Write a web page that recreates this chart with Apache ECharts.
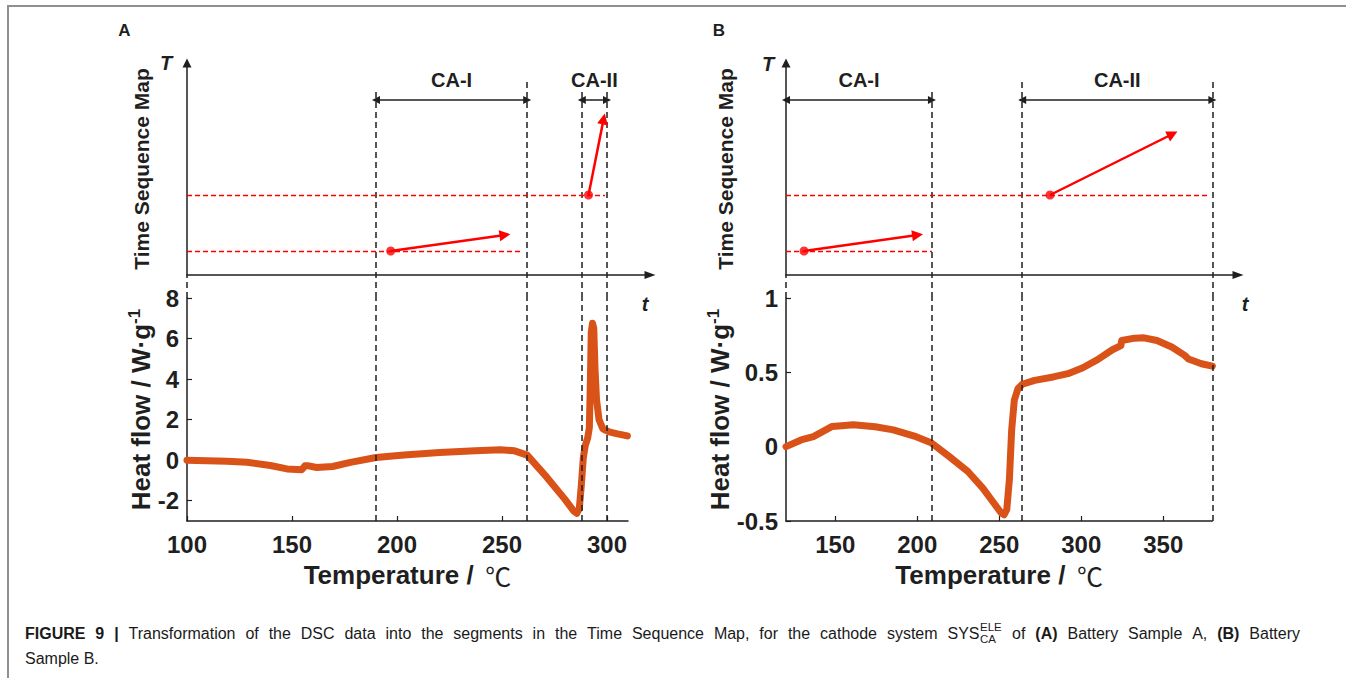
<!DOCTYPE html>
<html>
<head>
<meta charset="utf-8">
<title>DSC Time Sequence Map</title>
<script src="https://cdn.jsdelivr.net/npm/echarts@6.0.0/dist/echarts.min.js"></script>
<style>
html,body{margin:0;padding:0;background:#ffffff;overflow:hidden;}
#frame{position:absolute;left:7px;top:5px;width:1339px;height:673px;box-sizing:border-box;border-left:2px solid #8f8f8f;border-top:2px solid #8f8f8f;}
#chart{position:absolute;left:0;top:0;width:1346px;height:678px;}
</style>
</head>
<body>
<div id="frame"></div>
<div id="chart"></div>
<script>
// ---------------- data ----------------
// Panel A: DSC curve of Battery Sample A
const tempA = [100,119,128.6,139.7,147.6,154.6,156.2,157.4,161.7,169.3,177.8,190,203.3,220.3,237.3,249.3,256,262,271.4,279.9,284.1,285.6,286.8,287.8,288.7,289.6,290.8,291.6,292.1,292.5,293.1,293.7,294.3,295.0,296.2,298.0,301.0,305.0,309.7];
const heatA = [0,-0.05,-0.1,-0.26,-0.43,-0.47,-0.28,-0.27,-0.36,-0.31,-0.11,0.13,0.26,0.38,0.46,0.51,0.46,0.25,-0.85,-1.92,-2.5,-2.62,-2.4,-1.2,0.1,0.7,1.1,1.6,4.0,6.3,6.75,6.5,4.5,3.0,2.0,1.55,1.4,1.3,1.2];
// Panel B: DSC curve of Battery Sample B
const tempB = [120,129.2,136.7,147.9,154,161,174.4,185.4,199.3,208.5,219.6,230.9,240,246.7,251.2,253,254.6,256.2,257.6,259.2,261.4,264.1,271.6,282.9,291.9,301,310,319,324.2,324.7,332.6,338.3,346.2,355.2,363.1,365.4,373.3,380];
const heatB = [0,0.045,0.068,0.135,0.14,0.147,0.134,0.113,0.067,0.027,-0.067,-0.167,-0.279,-0.379,-0.446,-0.458,-0.424,-0.223,0.112,0.3125,0.39,0.42,0.446,0.469,0.491,0.531,0.585,0.652,0.68,0.714,0.73,0.732,0.714,0.67,0.614,0.59,0.558,0.542];

// tick labels
const xTicksA = [100,150,200,250,300];
const yTicksA = [-2,0,2,4,6,8];
const xTicksB = [150,200,250,300,350];
const yTicksB = [-0.5,0,0.5,1];

// segment dividers (°C) and where each dashed divider starts in the time-map (map units)
const boundsA = [190,262,288,300];
const boundTopA = [183,193,185,185];
const boundsB = [209,264,380];
const boundTopB = [185,195,195];

// segments
const segNamesA = ['CA-I','CA-II'];
const segFromA = [190,288];
const segToA = [262,300];
const segNamesB = ['CA-I','CA-II'];
const segFromB = [120,264];
const segToB = [209,380];

// time-sequence trends: start temperature / level, end temperature / level, reference-level end
const trendStartTA = [197,291.2];
const trendStartLA = [24,80];
const trendEndTA = [251.4,298.4];
const trendEndLA = [40,156];
const levelEndA = [260,299];
const trendStartTB = [131,281];
const trendStartLB = [24,80];
const trendEndTB = [200.2,355.7];
const trendEndLB = [40,141];
const levelEndB = [209,377];

// caption (line 1 is justified; '*' marks bold words, '#' marks the SYS word with scripts)
const capWords1 = ['*FIGURE','*9','*|','Transformation','of','the','DSC','data','into','the','segments','in','the','Time','Sequence','Map,','for','the','cathode','system','#SYS','of','*(A)','Battery','Sample','A,','*(B)','Battery'];
const capSup = 'ELE';
const capSub = 'CA';
const capLine2 = 'Sample B.';

// ---------------- styling / layout ----------------
const FONT = '"Liberation Sans", Arial, Helvetica, sans-serif';
const CAPFONT = '"Liberation Sans", Arial, sans-serif';
const INK = '#1f1f1f';
const ORANGE = '#D95319';
const RED = '#ff0000';
const T_MIN = -23, T_MAX = 217, T_AXIS_TOP = 212, SEG_LEVEL = 175;
const TOP = 58, MID = 298, BOT = 521;
const TICKFS = 24, TITLEFS = 26;

const PA = {left:187, px:2.1, xmin:100, xmax:310, ymin:-3, ymax:8, arrowRight:650, tsGap:35, hfGap:30};
const PB = {left:786, px:1.64, xmin:120, xmax:380, ymin:-0.5, ymax:1, arrowRight:1238, tsGap:50, hfGap:48};

const dashBlack = {color:INK, type:[6,4], width:1.5};
const solidBlack = {color:INK, type:'solid', width:1.5};
const dashRed = {color:RED, type:[5,3], width:1.3, opacity:1};
const solidRed = {color:RED, type:'solid', width:2.5};

function seg(p1, p2, style, s1, s2, size, label) {
  const a = {coord:p1, symbol:s1 || 'none', symbolSize:size || 8, lineStyle:Object.assign({}, style)};
  const b = {coord:p2, symbol:s2 || 'none', symbolSize:size || 8, lineStyle:Object.assign({}, style)};
  if (label) { a.label = label; b.label = label; }
  return [a, b];
}

const grids = [], xAxes = [], yAxes = [], series = [];

function buildPanel(P, temps, heats, xTicks, yTicks, bounds, boundTop, segNames, segFrom, segTo,
                    stT, stL, enT, enL, lvEnd) {
  const gi = grids.length;
  const topW = P.arrowRight - P.left;
  grids.push({left:P.left, top:TOP, width:topW, height:MID - TOP});
  grids.push({left:P.left, top:MID, width:(P.xmax - P.xmin) * P.px, height:BOT - MID});

  xAxes.push({
    gridIndex:gi, type:'value', min:P.xmin, max:P.xmin + topW / P.px,
    axisLine:{show:true, onZero:true, symbol:['none','triangle'], symbolSize:[8,11], lineStyle:{color:INK, width:1.5}},
    axisTick:{show:false}, axisLabel:{show:false}, splitLine:{show:false}
  });
  xAxes.push({
    gridIndex:gi + 1, type:'value', min:P.xmin, max:P.xmax,
    axisLine:{show:true, onZero:false, lineStyle:{color:INK, width:1.5}},
    axisTick:{show:true, inside:true, length:5, customValues:xTicks, lineStyle:{color:INK, width:1.2}},
    axisLabel:{customValues:xTicks, margin:11, fontSize:TICKFS, fontWeight:'bold', fontFamily:FONT, color:INK},
    splitLine:{show:false},
    name:'{b|Temperature /}{c|  \u2103}', nameLocation:'middle', nameGap:41,
    nameTextStyle:{rich:{
      b:{fontSize:TITLEFS, fontWeight:'bold', fontFamily:FONT, color:INK},
      c:{fontSize:TITLEFS, fontWeight:'normal', fontFamily:'"Noto Sans CJK SC", "DejaVu Sans"', color:INK}
    }}
  });
  yAxes.push({
    gridIndex:gi, type:'value', min:T_MIN, max:T_MAX,
    axisLine:{show:false}, axisTick:{show:false}, axisLabel:{show:false}, splitLine:{show:false},
    name:'Time Sequence Map', nameLocation:'middle', nameRotate:90, nameGap:P.tsGap,
    nameTextStyle:{fontSize:21, fontWeight:'bold', fontFamily:FONT, color:INK, padding:[0,0,0,18]}
  });
  yAxes.push({
    gridIndex:gi + 1, type:'value', min:P.ymin, max:P.ymax,
    axisLine:{show:true, onZero:false, lineStyle:{color:INK, width:1.5}},
    axisTick:{show:true, inside:true, length:5, customValues:yTicks, lineStyle:{color:INK, width:1.2}},
    axisLabel:{customValues:yTicks, margin:8, fontSize:TICKFS, fontWeight:'bold', fontFamily:FONT, color:INK},
    splitLine:{show:false},
    name:'{b|Heat flow / W\u00b7g}{s|-1}', nameLocation:'middle', nameRotate:90, nameGap:P.hfGap,
    nameTextStyle:{rich:{
      b:{fontSize:TITLEFS, fontWeight:'bold', fontFamily:FONT, color:INK, lineHeight:30},
      s:{fontSize:17, fontWeight:'bold', fontFamily:FONT, color:INK, lineHeight:17, verticalAlign:'top'}
    }}
  });

  // DSC curve + dashed dividers in the heat-flow plot
  series.push({
    type:'line', xAxisIndex:gi + 1, yAxisIndex:gi + 1,
    data:temps.map((t, i) => [t, heats[i]]),
    symbol:'none', showSymbol:false, smooth:false,
    lineStyle:{color:ORANGE, width:7, cap:'round', join:'round'},
    z:3,
    markLine:{silent:true, symbol:['none','none'], label:{show:false}, animation:false,
      lineStyle:dashBlack, data:bounds.map(v => ({xAxis:v}))}
  });

  // time sequence map: black scaffold
  const mlBlack = [];
  bounds.forEach((v, i) => mlBlack.push(seg([v, T_MIN], [v, boundTop[i]], dashBlack)));
  mlBlack.push(seg([P.xmin, T_MIN], [P.xmin, 0], dashBlack));
  mlBlack.push(seg([P.xmin, 0], [P.xmin, T_AXIS_TOP], solidBlack, 'none', 'triangle', 9));
  segNames.forEach((nm, i) => mlBlack.push(seg([segFrom[i], SEG_LEVEL], [segTo[i], SEG_LEVEL], solidBlack,
    'triangle', 'triangle', 8,
    {show:true, position:'insideMiddleTop', distance:10, formatter:nm, fontSize:20, fontWeight:'bold',
     fontFamily:FONT, color:INK})));
  series.push({
    type:'line', xAxisIndex:gi, yAxisIndex:gi, data:[], clip:false, silent:true,
    markLine:{silent:true, symbol:['none','none'], label:{show:false}, animation:false,
      lineStyle:solidBlack, data:mlBlack}
  });
  // red reference levels (dashed)
  series.push({
    type:'line', xAxisIndex:gi, yAxisIndex:gi, data:[], clip:false, silent:true,
    markLine:{silent:true, symbol:['none','none'], label:{show:false}, animation:false,
      lineStyle:dashRed, itemStyle:{color:RED},
      data:stL.map((lv, i) => [{coord:[P.xmin, lv]}, {coord:[lvEnd[i], lv]}])}
  });
  // red trend arrows + start dots
  series.push({
    type:'scatter', xAxisIndex:gi, yAxisIndex:gi,
    data:stT.map((t, i) => [t, stL[i]]),
    symbolSize:9, itemStyle:{color:RED}, clip:false, z:6, silent:true,
    markLine:{silent:true, symbol:['none','triangle'], symbolSize:11, label:{show:false}, animation:false,
      lineStyle:solidRed, itemStyle:{color:RED},
      data:stT.map((t, i) => [{coord:[t, stL[i]]}, {coord:[enT[i], enL[i]]}])}
  });
}

buildPanel(PA, tempA, heatA, xTicksA, yTicksA, boundsA, boundTopA, segNamesA, segFromA, segToA,
           trendStartTA, trendStartLA, trendEndTA, trendEndLA, levelEndA);
buildPanel(PB, tempB, heatB, xTicksB, yTicksB, boundsB, boundTopB, segNamesB, segFromB, segToB,
           trendStartTB, trendStartLB, trendEndTB, trendEndLB, levelEndB);

// ---------------- annotation texts ----------------
function txt(x, y, s, font, align) {
  return {type:'text', x:x, y:y, silent:true, z:10,
    style:{text:s, font:font, fill:INK, align:align || 'center', verticalAlign:'middle'}};
}
const graphics = [
  txt(124.5, 30.5, 'A', 'bold 17px ' + FONT),
  txt(719, 30.5, 'B', 'bold 17px ' + FONT),
  txt(166, 63, 'T', 'italic bold 20px ' + FONT),
  txt(768, 64, 'T', 'italic bold 20px ' + FONT),
  txt(645, 304, 't', 'italic bold 20px ' + FONT),
  txt(1245, 304, 't', 'italic bold 20px ' + FONT)
];

// caption: justified first line, left-aligned last line
const CAP = 16, CAPSC = 11.5, CAPX = 25, CAPRIGHT = 1300, CAPY1 = 633, CAPY2 = 658, CAPCOL = '#1a1a1a';
const ctx = document.createElement('canvas').getContext('2d');
function tw(s, w, size) { ctx.font = w + ' ' + size + 'px ' + CAPFONT; return ctx.measureText(s).width; }
const words = capWords1.map(w => {
  const bold = w[0] === '*', sys = w[0] === '#';
  const t = (bold || sys) ? w.slice(1) : w;
  let width = tw(t, bold ? 'bold' : 'normal', CAP);
  if (sys) width += Math.max(tw(capSup, 'normal', CAPSC), tw(capSub, 'normal', CAPSC)) + 1;
  return {t, bold, sys, width};
});
const totalW = words.reduce((s, w) => s + w.width, 0);
const gap = (CAPRIGHT - CAPX - totalW) / (words.length - 1);
let cx = CAPX;
words.forEach(w => {
  graphics.push({type:'text', x:cx, y:CAPY1, silent:true,
    style:{text:w.t, font:(w.bold ? 'bold ' : 'normal ') + CAP + 'px ' + CAPFONT, fill:CAPCOL, align:'left', verticalAlign:'middle'}});
  if (w.sys) {
    const sx = cx + tw(w.t, 'normal', CAP) + 0.5;
    graphics.push({type:'text', x:sx, y:CAPY1 - 6, silent:true,
      style:{text:capSup, font:'normal ' + CAPSC + 'px ' + CAPFONT, fill:CAPCOL, align:'left', verticalAlign:'middle'}});
    graphics.push({type:'text', x:sx, y:CAPY1 + 6, silent:true,
      style:{text:capSub, font:'normal ' + CAPSC + 'px ' + CAPFONT, fill:CAPCOL, align:'left', verticalAlign:'middle'}});
  }
  cx += w.width + gap;
});
graphics.push({type:'text', x:CAPX, y:CAPY2, silent:true,
  style:{text:capLine2, font:'normal ' + CAP + 'px ' + CAPFONT, fill:CAPCOL, align:'left', verticalAlign:'middle'}});

const chart = echarts.init(document.getElementById('chart'), null, {renderer:'svg'});
chart.setOption({
  animation:false,
  backgroundColor:'transparent',
  grid:grids,
  xAxis:xAxes,
  yAxis:yAxes,
  series:series,
  graphic:graphics
});
</script>
</body>
</html>
